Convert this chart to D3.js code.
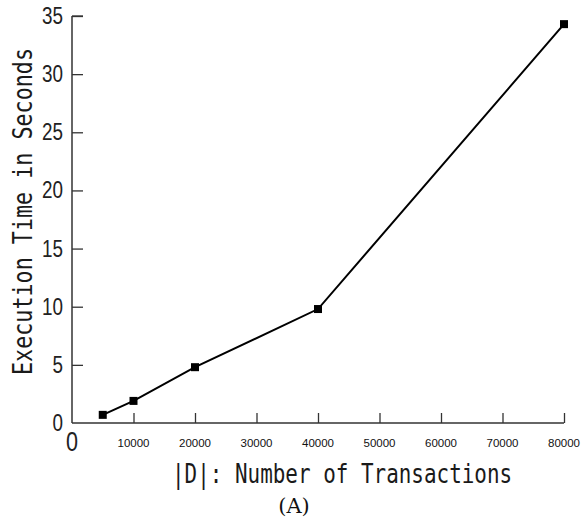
<!DOCTYPE html>
<html><head><meta charset="utf-8">
<script src="https://cdn.jsdelivr.net/npm/d3@7"></script>
<style>body{margin:0;background:#fff}svg{display:block}</style>
</head><body>
<svg id="c" width="581" height="522"></svg>
<script>
const transactions = [5000, 10000, 20000, 40000, 80000];
const seconds = [0.7, 1.9, 4.8, 9.8, 34.3];
const xTicks = [10000, 20000, 30000, 40000, 50000, 60000, 70000, 80000];
const yTicks = [5, 10, 15, 20, 25, 30, 35];
const xTitle = "|D|: Number of Transactions";
const yTitle = "Execution Time in Seconds";
const caption = "(A)";

const svg = d3.select("#c");
const x = d3.scaleLinear().domain([0, 80000]).range([72, 564]);
const y = d3.scaleLinear().domain([0, 35]).range([423, 16]);
const axisColor = "#333";
const sans = "Liberation Sans, Arial, sans-serif";
const mono = "DejaVu Sans Mono, Liberation Mono, monospace";

// x axis
const gx = svg.append("g").attr("transform", `translate(0,${y(0)})`);
gx.append("line").attr("x1", x(0)).attr("x2", x(80000)).attr("stroke", axisColor).attr("stroke-width", 1.5);
gx.call(d3.axisTop(x).tickValues(xTicks).tickSize(10).tickFormat(""));
gx.select(".domain").remove();
gx.selectAll(".tick line").attr("stroke", axisColor).attr("stroke-width", 1.3);
gx.selectAll(".tickl").data(xTicks).enter().append("text")
  .attr("x", d => x(d)).attr("y", 24).attr("text-anchor", "middle")
  .attr("font-family", sans).attr("font-size", 11.5).attr("fill", "#111")
  .text(d => d);

// y axis
const gy = svg.append("g").attr("transform", `translate(${x(0)},0)`);
gy.append("line").attr("y1", y(0)).attr("y2", y(35)).attr("stroke", axisColor).attr("stroke-width", 1.5);
gy.call(d3.axisRight(y).tickValues(yTicks).tickSize(11).tickFormat(""));
gy.select(".domain").remove();
gy.selectAll(".tick line").attr("stroke", axisColor).attr("stroke-width", 1.3);
gy.append("line").attr("x1", 0).attr("x2", 11).attr("y1", y(35)).attr("y2", y(35)).attr("stroke", axisColor).attr("stroke-width", 1.3);
const yl = [0].concat(yTicks);
gy.selectAll(".tickl").data(yl).enter().append("text")
  .attr("transform", d => `translate(-9,${y(d) + 8}) scale(0.82,1)`)
  .attr("text-anchor", "end")
  .attr("font-family", sans)
  .attr("font-size", 23).attr("fill", "#222")
  .text(d => d);

// origin 0 for x
svg.append("text").attr("transform", `translate(${x(0)},451) scale(0.8,1)`).attr("text-anchor", "middle")
  .attr("font-family", sans)
  .attr("font-size", 27).attr("fill", "#222").text("0");

// line
const line = d3.line().x((d, i) => x(transactions[i])).y(d => y(d));
svg.append("path").datum(seconds).attr("d", line).attr("fill", "none")
  .attr("stroke", "#000").attr("stroke-width", 2);
svg.selectAll(".pt").data(seconds).enter().append("rect")
  .attr("x", (d, i) => x(transactions[i]) - 4).attr("y", d => y(d) - 4)
  .attr("width", 8).attr("height", 8).attr("fill", "#000");

// titles
svg.append("text").attr("transform", "translate(172,483) scale(0.805,1)")
  .attr("font-family", mono).attr("font-size", 26).attr("fill", "#1a1a1a")
  .text(xTitle);
svg.append("text").attr("transform", "translate(32,375) rotate(-90) scale(0.805,1)")
  .attr("font-family", mono).attr("font-size", 27).attr("fill", "#1a1a1a")
  .text(yTitle);
svg.append("text").attr("x", 294).attr("y", 513).attr("text-anchor", "middle")
  .attr("font-family", "DejaVu Serif, Liberation Serif, serif").attr("font-size", 21).attr("fill", "#111")
  .text(caption);
</script>
</body></html>
